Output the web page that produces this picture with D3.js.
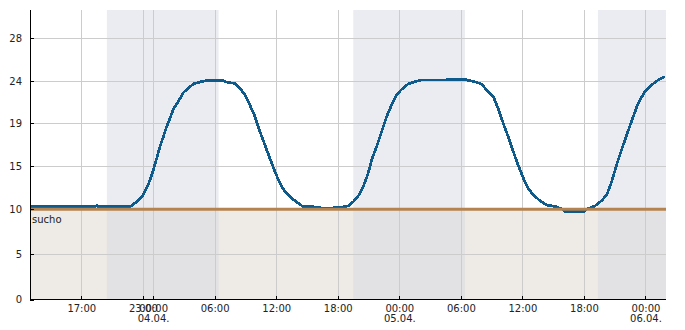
<!DOCTYPE html>
<html>
<head>
<meta charset="utf-8">
<script src="https://cdn.jsdelivr.net/npm/d3@7"></script>
<style>
  body { margin: 0; background: #fff; }
  text { font-family: "DejaVu Sans", sans-serif; font-size: 10px; fill: #222; }
</style>
</head>
<body>
<svg id="chart" width="685" height="330"></svg>
<script>
// measured series: time stamps and temperatures
const times = [
  "03.04. 12:00", "03.04. 14:55", "03.04. 18:26", "03.04. 18:32", "03.04. 18:38", "03.04. 19:30",
  "03.04. 21:45", "03.04. 22:24", "03.04. 22:59", "03.04. 23:22", "03.04. 23:42", "04.04. 00:01",
  "04.04. 00:21", "04.04. 00:40", "04.04. 01:00", "04.04. 01:19", "04.04. 01:39", "04.04. 01:58",
  "04.04. 02:27", "04.04. 02:56", "04.04. 03:26", "04.04. 03:55", "04.04. 04:34", "04.04. 05:13",
  "04.04. 06:50", "04.04. 07:00", "04.04. 07:29", "04.04. 07:59", "04.04. 08:28", "04.04. 08:58",
  "04.04. 09:26", "04.04. 09:56", "04.04. 10:25", "04.04. 10:54", "04.04. 11:23", "04.04. 11:53",
  "04.04. 12:22", "04.04. 12:51", "04.04. 13:31", "04.04. 14:09", "04.04. 14:38", "04.04. 15:37",
  "04.04. 16:45", "04.04. 18:13", "04.04. 19:01", "04.04. 19:31", "04.04. 20:00", "04.04. 20:29",
  "04.04. 20:58", "04.04. 21:18", "04.04. 21:47", "04.04. 22:17", "04.04. 22:46", "04.04. 23:15",
  "04.04. 23:44", "05.04. 00:14", "05.04. 00:52", "05.04. 01:31", "05.04. 02:11", "05.04. 04:08",
  "05.04. 06:24", "05.04. 06:34", "05.04. 07:22", "05.04. 08:02", "05.04. 08:31", "05.04. 09:10",
  "05.04. 09:38", "05.04. 10:08", "05.04. 10:37", "05.04. 11:07", "05.04. 11:35", "05.04. 12:05",
  "05.04. 12:34", "05.04. 13:04", "05.04. 13:43", "05.04. 14:22", "05.04. 15:20", "05.04. 15:51",
  "05.04. 16:08", "05.04. 18:05", "05.04. 18:16", "05.04. 19:04", "05.04. 19:43", "05.04. 20:13",
  "05.04. 20:42", "05.04. 21:11", "05.04. 21:40", "05.04. 22:10", "05.04. 22:48", "05.04. 23:17",
  "05.04. 23:56", "06.04. 00:36", "06.04. 01:14", "06.04. 01:53"
];
const temps = [
  10.36, 10.36, 10.36, 10.5, 10.33, 10.29,
  10.3, 10.88, 11.55, 12.44, 13.41, 14.57,
  15.74, 16.82, 17.75, 18.68, 19.6, 20.67,
  21.57, 22.64, 23.17, 23.68, 23.92, 24.06,
  24.06, 23.95, 23.83, 23.76, 23.17, 22.37,
  21.18, 19.79, 18.22, 16.98, 15.74, 14.37,
  13.02, 12.05, 11.28, 10.7, 10.3, 10.3,
  10.09, 10.23, 10.38, 10.88, 11.55, 12.63,
  14.19, 15.59, 16.82, 18.22, 19.79, 21.18,
  22.37, 23.05, 23.68, 23.95, 24.12, 24.12,
  24.19, 24.12, 23.95, 23.68, 22.96, 22.17,
  20.79, 19.0, 17.75, 16.36, 15.12, 13.65,
  12.44, 11.66, 11.0, 10.5, 10.3, 10.03,
  9.78, 9.78, 10.03, 10.38, 11.0, 11.66,
  13.21, 15.12, 16.52, 17.91, 19.79, 21.38,
  22.76, 23.56, 24.12, 24.43
];

const yTicks = [0, 5, 10, 15, 19, 24, 28];
const xTickTimes = [
  "03.04. 17:00", "03.04. 23:00", "04.04. 00:00", "04.04. 06:00", "04.04. 12:00", "04.04. 18:00",
  "05.04. 00:00", "05.04. 06:00", "05.04. 12:00", "05.04. 18:00", "06.04. 00:00"
];
const xTickLabels = [
  ["17:00"], ["23:00"], ["00:00", "04.04."], ["06:00"], ["12:00"], ["18:00"],
  ["00:00", "05.04."], ["06:00"], ["12:00"], ["18:00"], ["00:00", "06.04."]
];
const nightStart = ["03.04. 19:30", "04.04. 19:31", "05.04. 19:22"];
const nightEnd = ["04.04. 06:23", "05.04. 06:24", "06.04. 02:00"];
const threshold = 10;
const thresholdLabel = "sucho";
const timeStart = "03.04. 12:00";
const timeEnd = "06.04. 02:00";

const parse = d3.timeParse("%d.%m. %H:%M");
const plotLeft = 30, plotRight = 666, plotTop = 10, plotBottom = 299.5;

const svg = d3.select("#chart");

const x = d3.scaleTime()
  .domain([parse(timeStart), parse(timeEnd)])
  .range([plotLeft, plotRight]);

// axis ticks are not evenly spaced in value, so map each tick to its row
const y = d3.scaleLinear()
  .domain(yTicks)
  .range([plotBottom, 254.3, 209.3, 166.3, 123.3, 81.3, 38.3]);

svg.append("defs").append("clipPath").attr("id", "plot")
  .append("rect")
  .attr("x", plotLeft).attr("y", plotTop)
  .attr("width", plotRight - plotLeft).attr("height", plotBottom - plotTop);

const bg = svg.append("g").attr("clip-path", "url(#plot)");

// dry zone below the threshold
bg.append("rect")
  .attr("x", plotLeft).attr("width", plotRight - plotLeft)
  .attr("y", y(threshold)).attr("height", plotBottom - y(threshold))
  .attr("fill", "#eeeae5");

// night bands
bg.selectAll(".night")
  .data(d3.zip(nightStart, nightEnd))
  .enter()
  .append("rect")
  .attr("class", "night")
  .attr("x", d => x(parse(d[0])))
  .attr("width", d => x(parse(d[1])) - x(parse(d[0])))
  .attr("y", plotTop).attr("height", plotBottom - plotTop)
  .attr("fill", "rgba(213,217,227,0.5)");

// grid
const grid = svg.append("g")
  .attr("stroke", "#cccccc")
  .attr("stroke-width", 1)
  .attr("shape-rendering", "crispEdges");

grid.selectAll(".gy")
  .data(yTicks.filter(d => d > 0))
  .enter()
  .append("line")
  .attr("x1", plotLeft).attr("x2", plotRight)
  .attr("y1", d => Math.round(y(d)) + 0.5)
  .attr("y2", d => Math.round(y(d)) + 0.5);

grid.selectAll(".gx")
  .data(xTickTimes)
  .enter()
  .append("line")
  .attr("x1", d => Math.round(x(parse(d))) + 0.5)
  .attr("x2", d => Math.round(x(parse(d))) + 0.5)
  .attr("y1", plotTop).attr("y2", plotBottom);

// temperature line
const line = d3.line()
  .x((d, i) => x(parse(times[i])))
  .y(d => y(d));

svg.append("path")
  .datum(temps)
  .attr("clip-path", "url(#plot)")
  .attr("fill", "none")
  .attr("stroke", "#0e5a8a")
  .attr("stroke-width", 2.7)
  .attr("stroke-linejoin", "round")
  .attr("shape-rendering", "crispEdges")
  .attr("d", line);

// threshold
svg.append("line")
  .attr("x1", plotLeft).attr("x2", plotRight)
  .attr("y1", y(threshold)).attr("y2", y(threshold))
  .attr("stroke", "#b5834f")
  .attr("stroke-width", 3);

svg.append("text")
  .attr("x", plotLeft + 2)
  .attr("y", y(threshold) + 13.5)
  .text(thresholdLabel);

// axes
const yAxis = svg.append("g")
  .attr("transform", `translate(${plotLeft},0)`)
  .call(d3.axisLeft(y).tickValues(yTicks).tickFormat(d3.format("d")).tickSize(-4).tickSizeOuter(0).tickPadding(8));

const xAxis = svg.append("g")
  .attr("transform", `translate(0,${plotBottom})`)
  .call(d3.axisBottom(x).tickValues(xTickTimes.map(parse)).tickSize(-4).tickSizeOuter(0).tickPadding(5));

[yAxis, xAxis].forEach(a => {
  a.select(".domain").remove();
  a.selectAll(".tick line").attr("stroke", "#000").attr("shape-rendering", "crispEdges");
  a.selectAll("text").attr("font-family", null).attr("font-size", null).attr("fill", "#222");
});

xAxis.selectAll(".tick text")
  .text(null)
  .each(function (d, i) {
    const t = d3.select(this);
    xTickLabels[i].forEach((s, k) => {
      t.append("tspan")
        .attr("x", 0)
        .attr("dy", k === 0 ? null : "1.0em")
        .text(s);
    });
  });

svg.append("line")
  .attr("x1", plotLeft + 0.5).attr("x2", plotLeft + 0.5)
  .attr("y1", plotTop).attr("y2", plotBottom + 0.5)
  .attr("stroke", "#000");

svg.append("line")
  .attr("x1", plotLeft).attr("x2", plotRight)
  .attr("y1", plotBottom).attr("y2", plotBottom)
  .attr("stroke", "#000");
</script>
</body>
</html>
